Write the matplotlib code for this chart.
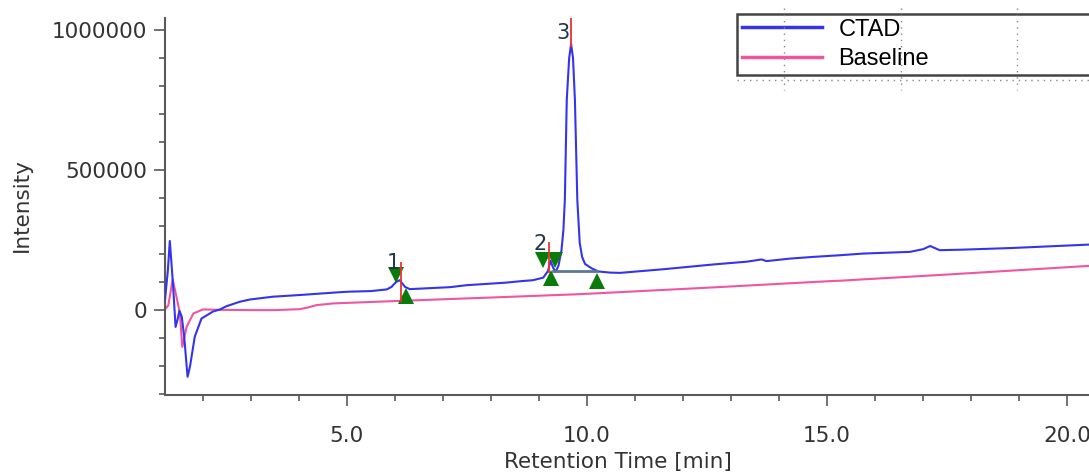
import matplotlib
matplotlib.use("Agg")
import matplotlib.pyplot as plt
from matplotlib.lines import Line2D
from matplotlib.ticker import MultipleLocator, FormatStrFormatter

# ---- chromatogram traces ------------------------------------------------
ctad_t = [1.21, 1.27, 1.31, 1.35, 1.38, 1.43, 1.47, 1.51, 1.56, 1.61, 1.68,
          1.73, 1.83, 1.97, 2.21, 2.35, 2.49, 2.77, 2.98, 3.46, 4.02, 4.85,
          5.06, 5.50, 5.83, 5.93, 6.02, 6.10, 6.21, 6.31, 7.15, 7.49, 8.30,
          8.60, 8.88, 9.09, 9.19, 9.24, 9.30, 9.35, 9.41, 9.47, 9.51, 9.54,
          9.58, 9.63, 9.67, 9.71, 9.75, 9.80, 9.85, 9.90, 9.96, 10.10, 10.24,
          10.48, 10.69, 11.59, 12.63, 13.33, 13.64, 13.74, 14.23, 14.71,
          15.27, 15.76, 16.73, 17.01, 17.15, 17.35, 17.84, 18.88, 20.46]
ctad_i = [36000, 143000, 247000, 155000, 83000, -60000, -35000, -2500,
          -24000, -95000, -238000, -202000, -95000, -30000, -5000, 2000,
          14000, 30000, 38000, 48000, 54000, 64000, 66000, 68000, 74000,
          83000, 100000, 107000, 83000, 75000, 82000, 89000, 98000, 103000,
          107000, 116000, 140000, 176000, 150000, 137000, 160000, 214000,
          286000, 393000, 750000, 900000, 950000, 900000, 750000, 393000,
          240000, 190000, 165000, 149000, 138000, 134000, 133000, 146000,
          163000, 173000, 181000, 175000, 184000, 190000, 196000, 202000,
          208000, 218000, 229000, 214000, 216000, 222000, 234000]

base_t = [1.21, 1.28, 1.37, 1.45, 1.52, 1.57, 1.66, 1.80, 2.00, 2.40, 3.00,
          3.50, 4.02, 4.20, 4.37, 4.72, 6.10, 8.00, 9.85, 12.50, 15.06,
          15.27, 17.50, 20.46]
base_i = [2000, 18000, 110000, 47000, -11000, -131000, -60000, -12000, 2500,
          1000, 0, 0, 3500, 10000, 18000, 24000, 33000, 45000, 57000, 80000,
          103500, 105000, 127000, 158000]

# ---- peak annotations ----------------------------------------------------
peak_labels = ["1", "2", "3"]
peak_rt = [6.125, 9.21, 9.67]
peak_red_lo = [28600, 132000, 940000]
peak_red_hi = [172500, 244000, 1060000]
label_t = [5.96, 9.02, 9.50]
label_i = [168000, 236000, 989000]

start_t = [6.02, 9.08, 9.33]          # peak start markers (down triangles)
start_i = [125000, 178600, 178600]
end_t = [6.23, 9.25, 10.21]           # peak end markers (up triangles)
end_i = [50000, 114000, 104000]

integ_t = [9.29, 10.21]               # drop baseline under peak 3
integ_i = [139000, 139000]

fig = plt.figure(figsize=(10.89, 4.75), dpi=100)
ax = fig.add_axes([165 / 1089, 80 / 475, 1 - 165 / 1089, 377 / 475])

l1, = ax.plot(ctad_t, ctad_i, color="#3434ec", lw=1.5, label="CTAD", zorder=3)
l2, = ax.plot(base_t, base_i, color="#f0559f", lw=1.5, label="Baseline",
              zorder=2)
ax.plot(integ_t, integ_i, color="#5b7896", lw=2.0, zorder=4)
ax.plot(start_t, start_i, "v", color="#0a7a0a", ms=11, mew=0, zorder=5)
ax.plot(end_t, end_i, "^", color="#0a7a0a", ms=11, mew=0, zorder=5)
ax.vlines(peak_rt, peak_red_lo, peak_red_hi, color="#ee3030", lw=1.3, zorder=6)
for lab, t, i in zip(peak_labels, label_t, label_i):
    ax.text(t, i, lab, color="#1e3552", fontsize=15, ha="center",
            va="center", zorder=7)

ax.set_xlim(1.21, 20.46)
ax.set_ylim(-303000, 1043000)
ax.xaxis.set_major_locator(MultipleLocator(5))
ax.xaxis.set_minor_locator(MultipleLocator(1))
ax.xaxis.set_major_formatter(FormatStrFormatter("%.1f"))
ax.yaxis.set_major_locator(MultipleLocator(500000))
ax.yaxis.set_minor_locator(MultipleLocator(100000))
ax.yaxis.set_major_formatter(FormatStrFormatter("%d"))

for side in ("top", "right"):
    ax.spines[side].set_visible(False)
for side in ("left", "bottom"):
    ax.spines[side].set_color("#5a5a5a")
    ax.spines[side].set_linewidth(1.5)
ax.tick_params(which="major", length=8, width=1.2, color="#5a5a5a",
               labelsize=15.5, labelcolor="#333333")
ax.tick_params(axis="x", which="major", pad=14)
ax.tick_params(axis="y", which="major", pad=5)
ax.tick_params(which="minor", length=4.5, width=1.2, color="#5a5a5a")
ax.set_xlabel("Retention Time [min]", fontsize=15.5, color="#333333")
ax.set_ylabel("Intensity", fontsize=15.5, color="#333333")
ax.xaxis.set_label_coords(0.49, -0.152)
ax.yaxis.set_label_coords(-0.144, 0.504)

leg = ax.legend(handles=[l1, l2], loc="upper left",
                bbox_to_anchor=(737 / 1089, 1 - 14 / 475, 370 / 1089, 0),
                bbox_transform=fig.transFigure, mode="expand",
                borderaxespad=0, borderpad=0.2, handlelength=3.4,
                handletextpad=0.7, labelspacing=0.3, fancybox=False,
                framealpha=1, prop={"family": "Liberation Sans", "size": 17})
leg.get_frame().set_edgecolor("#444444")
leg.get_frame().set_linewidth(1.8)
for h in leg.get_lines():
    h.set_linewidth(2.5)

# dotted guide lines around the legend, as in the source software
for x in (784, 901, 1017):
    fig.add_artist(Line2D([x / 1089, x / 1089], [1 - 8 / 475, 1 - 90 / 475],
                          color="#888888", lw=1, ls=(0, (1, 3.5))))
fig.add_artist(Line2D([737 / 1089, 1.0], [1 - 80 / 475, 1 - 80 / 475],
                      color="#888888", lw=1, ls=(0, (1, 3.5))))

fig.savefig("out.png", dpi=100)
